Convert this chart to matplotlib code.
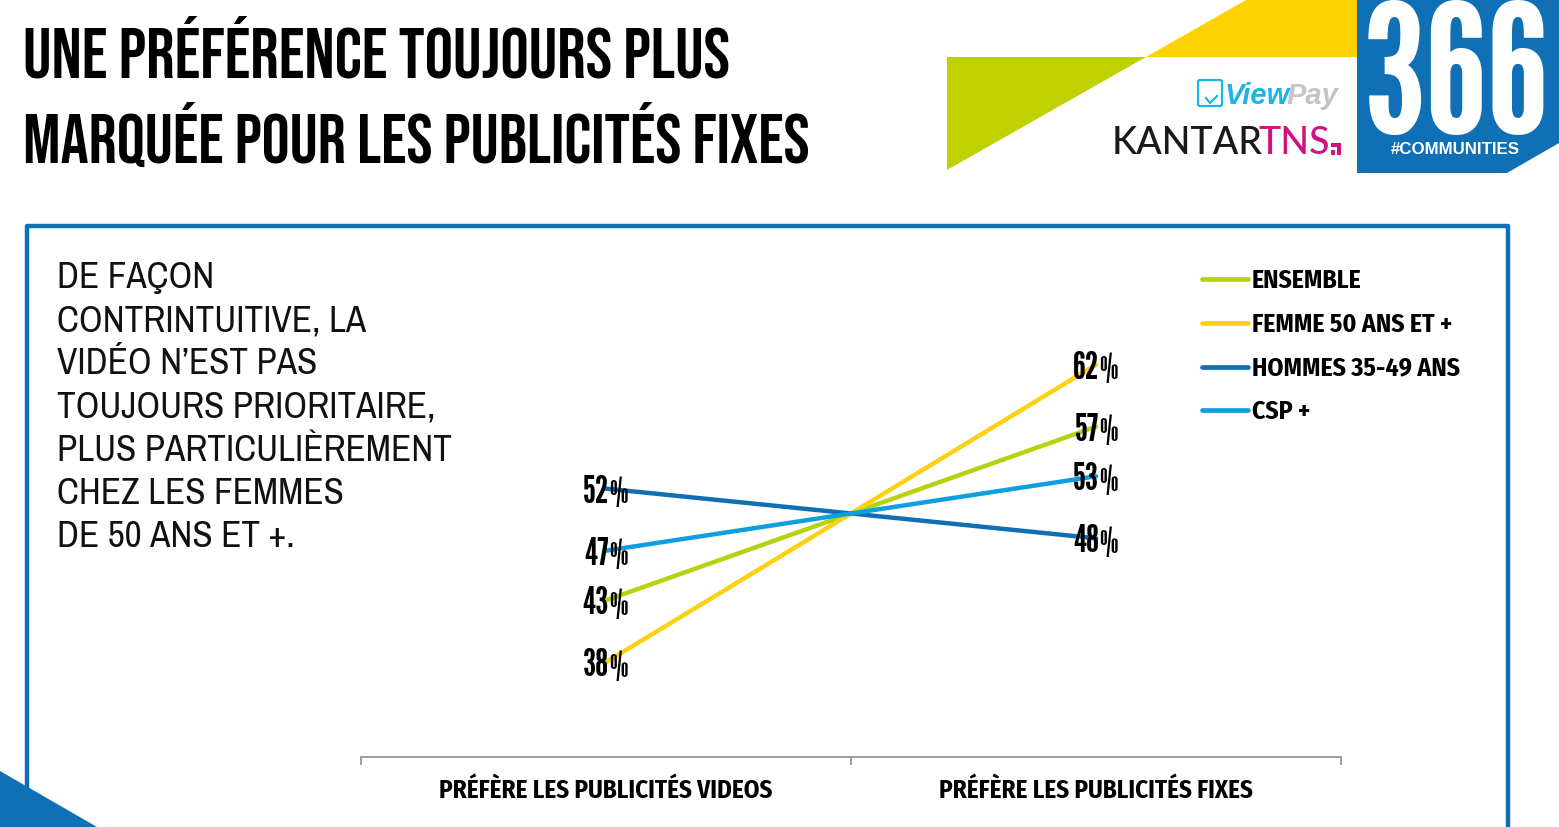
import matplotlib
matplotlib.use('Agg')
import matplotlib.pyplot as plt
from matplotlib.patches import Polygon, FancyBboxPatch

# condensed faces first, the rest only as a fallback
head = ['Bebas Neue', 'Liberation Sans', 'DejaVu Sans']
narrow = ['Archivo Narrow', 'Liberation Sans', 'DejaVu Sans']
label = ['Fira Sans Condensed', 'Liberation Sans', 'DejaVu Sans']
tall = ['League Gothic', 'Bebas Neue', 'Liberation Sans', 'DejaVu Sans']
thin = ['Six Caps', 'Pathway Gothic One', 'Liberation Sans', 'DejaVu Sans']
wide = ['Liberation Sans', 'DejaVu Sans']
logo = ['Lato', 'Liberation Sans', 'DejaVu Sans']
plt.rcParams['font.family'] = head

categories = ['PRÉFÈRE LES PUBLICITÉS VIDEOS', 'PRÉFÈRE LES PUBLICITÉS FIXES']
ensemble = [43, 57]
femme = [38, 62]
hommes = [52, 48]
csp = [47, 53]
names = ['ENSEMBLE', 'FEMME 50 ANS ET +', 'HOMMES 35-49 ANS', 'CSP +']
colors = ['#b9d00f', '#fbd110', '#0f6fb2', '#0d9fdf']
title_lines = ['UNE PRÉFÉRENCE TOUJOURS PLUS', 'MARQUÉE POUR LES PUBLICITÉS FIXES']
title_sizes = [51, 50.3]
body_lines = ['DE FAÇON', 'CONTRINTUITIVE, LA', 'VIDÉO N’EST PAS', 'TOUJOURS PRIORITAIRE,',
              'PLUS PARTICULIÈREMENT', 'CHEZ LES FEMMES', 'DE 50 ANS ET +.']

W, H = 1559, 827
fig = plt.figure(figsize=(W / 100, H / 100), dpi=100)

# overlay in pixel coords for the slide decoration
bg = fig.add_axes([0, 0, 1, 1])
bg.set_xlim(0, W)
bg.set_ylim(H, 0)
bg.axis('off')

blue = '#0f70b5'
pink = '#d0127f'
sky = '#1cb5ea'
bg.add_patch(Polygon([(947, 57), (1146, 57), (947, 170)], color='#c1d100', lw=0))
bg.add_patch(Polygon([(1146, 57), (1246, 0), (1357, 0), (1357, 57)], color='#ffd100', lw=0))
bg.add_patch(Polygon([(1357, 0), (1559, 0), (1559, 143), (1507, 173), (1357, 173)], color=blue, lw=0))
bg.plot([27, 27, 1508, 1508], [827, 226, 226, 827], color=blue, lw=3.2, solid_joinstyle='round')
bg.add_patch(Polygon([(0, 771), (97, 827), (0, 827)], color=blue, lw=0, zorder=5))

for i, line in enumerate(title_lines):
    bg.text(23, 77 + i * 85.5, line, fontsize=title_sizes[i], fontweight='bold', color='black', va='baseline')
for i, line in enumerate(body_lines):
    bg.text(57, 288 + i * 43.2, line, fontsize=26.7, color='#111111', va='baseline', family=narrow)

bg.text(1456, 134, '366', fontsize=130, color='white', ha='center', va='baseline', family=tall)
bg.text(1455, 154, '#COMMUNITIES', fontsize=12.2, fontweight='bold', color='white', ha='center', va='baseline',
        family=wide)
bg.text(1225, 104, 'View', fontsize=21, fontweight='bold', style='italic', color=sky, va='baseline', family=wide)
bg.text(1286, 104, 'Pay', fontsize=21, fontweight='bold', style='italic', color='#c4c4c4', va='baseline', family=wide)
bg.add_patch(FancyBboxPatch((1198, 80), 24, 26, boxstyle='round,pad=0,rounding_size=2', fill=False, ec=sky, lw=1.6))
bg.plot([1206, 1210, 1217], [98, 103, 96], color=sky, lw=1.6)
bg.text(1112, 154, 'KANTAR', fontsize=27, fontweight='medium', color='#1a1a1a', va='baseline', family=logo)
bg.text(1259, 154, 'TNS', fontsize=27, fontweight='medium', color=pink, va='baseline', family=logo)
bg.add_patch(Polygon([(1331, 143), (1341, 143), (1341, 155), (1337, 155), (1337, 147), (1331, 147)], color=pink, lw=0))
bg.add_patch(Polygon([(1331, 150), (1335, 150), (1335, 155), (1331, 155)], color=pink, lw=0))

# chart: pixel span 361-1341 / 757-263, 12.4 px per point around 513.5
ax = fig.add_axes([361 / W, 1 - 757 / H, 980 / W, 494 / H])
ax.patch.set_alpha(0)
xs = [0, 1]
series = [ensemble, femme, hommes, csp]
for vals, name, c in zip(series, names, colors):
    ax.plot(xs, vals, color=c, lw=3.2, label=name, solid_capstyle='round')
    for x, v in zip(xs, vals):
        ax.annotate(str(v), (x, v), xytext=(2, -2.5), textcoords='offset points', fontsize=27,
                    ha='right', va='center', zorder=6, family=tall)
        ax.annotate('%', (x, v), xytext=(2, -2.5), textcoords='offset points', fontsize=25,
                    ha='left', va='center', zorder=6, family=thin)

ax.set_xlim(-0.5, 1.5)
ax.set_ylim(30.36, 70.2)
ax.set_yticks([])
for s in ['top', 'left', 'right']:
    ax.spines[s].set_visible(False)
ax.spines['bottom'].set_color('#8c8c8c')
ax.spines['bottom'].set_linewidth(1.2)
ax.set_xticks([-0.5, 0.5, 1.5])
ax.set_xticklabels([])
ax.set_xticks(xs, minor=True)
ax.set_xticklabels(categories, minor=True, fontsize=18, fontweight='bold', family=label)
ax.tick_params(axis='x', which='major', length=6, width=1.2, color='#8c8c8c')
ax.tick_params(axis='x', which='minor', length=0, pad=15.5)

leg = fig.legend(loc='upper left', bbox_to_anchor=(1202 / W, 1 - 268.5 / H), frameon=False,
                 prop={'family': label, 'size': 18.5, 'weight': 'bold'}, handlelength=1.79, handletextpad=0.15,
                 labelspacing=0.74, borderpad=0, borderaxespad=0)
for h in leg.get_lines():
    h.set_linewidth(3.4)

fig.savefig('out.png', dpi=100)
